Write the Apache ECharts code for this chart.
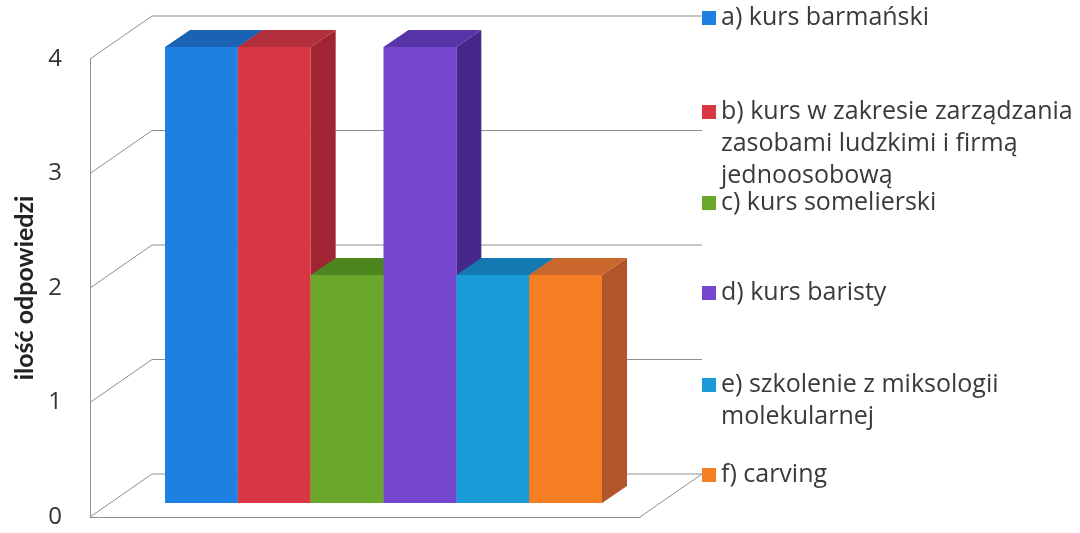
<!DOCTYPE html>
<html>
<head>
<meta charset="utf-8">
<script src="https://cdn.jsdelivr.net/npm/echarts@6/dist/echarts.min.js"></script>
<style>html,body{margin:0;padding:0;background:#fff}#chart{width:1080px;height:533px}</style>
</head>
<body>
<div id="chart"></div>
<script>
"use strict";

var courseNames = [
    'a) kurs barmański',
    'b) kurs w zakresie zarządzania zasobami ludzkimi i firmą jednoosobową',
    'c) kurs somelierski',
    'd) kurs baristy',
    'e) szkolenie z miksologii molekularnej',
    'f) carving'
];
var legendLabels = [
    'a) kurs barmański',
    'b) kurs w zakresie zarządzania\nzasobami ludzkimi i firmą\njednoosobową',
    'c) kurs somelierski',
    'd) kurs baristy',
    'e) szkolenie z miksologii\nmolekularnej',
    'f) carving'
];
var answerCounts = [4, 4, 2, 4, 2, 2];
var yTicks = [0, 1, 2, 3, 4];

var frontColors = ['#1f80e3', '#d83642', '#6aa82c', '#7547cf', '#1b9ad8', '#f57d22'];
var topColors = ['#1a62b4', '#b32f3c', '#4d861f', '#5735a8', '#1479b0', '#c9672c'];
var sideColors = ['#17539a', '#a02432', '#40721a', '#45288a', '#115f8c', '#b2552a'];
var legendCenters = [18, 112, 203, 293, 385, 475];

var DEPTH_X = 25, DEPTH_Y = -17;   // bar depth
var WALL_X = 62, WALL_Y = -43;     // back wall offset
var LINE_H = 32;
var FONT = '"Open Sans", sans-serif';

function renderWall(params, api) {
    var v = api.value(1);
    var a = api.coord([0, v]);
    var b = api.coord([1, v]);
    var style = { stroke: '#8f8f8f', lineWidth: 1, fill: null };
    var children = [{
        type: 'polyline',
        shape: { points: [a, [a[0] + WALL_X, a[1] + WALL_Y], [b[0] + WALL_X, b[1] + WALL_Y]] },
        style: style
    }];
    if (v === 0) {
        children.push({
            type: 'line',
            shape: { x1: b[0], y1: b[1], x2: b[0] + WALL_X, y2: b[1] + WALL_Y },
            style: style
        });
    }
    return { type: 'group', silent: true, children: children };
}

function barRenderer(i) {
    return function (params, api) {
        var top = api.coord([api.value(0), api.value(1)]);
        var base = api.coord([api.value(0), 0]);
        var w = api.size([1, 0])[0];
        var x0 = top[0] - w / 2, x1 = top[0] + w / 2;
        var y0 = top[1], yb = base[1];
        return {
            type: 'group',
            children: [{
                type: 'polygon',
                shape: { points: [[x1, y0], [x1 + DEPTH_X, y0 + DEPTH_Y], [x1 + DEPTH_X, yb + DEPTH_Y], [x1, yb]] },
                style: { fill: sideColors[i] }
            }, {
                type: 'polygon',
                shape: { points: [[x0, y0], [x1, y0], [x1 + DEPTH_X, y0 + DEPTH_Y], [x0 + DEPTH_X, y0 + DEPTH_Y]] },
                style: { fill: topColors[i] }
            }, {
                type: 'rect',
                shape: { x: x0, y: y0, width: w, height: yb - y0 },
                style: { fill: frontColors[i] }
            }]
        };
    };
}

var series = [{
    type: 'custom',
    xAxisIndex: 0,
    yAxisIndex: 0,
    silent: true,
    data: yTicks.map(function (t) { return [0, t]; }),
    renderItem: renderWall
}];
courseNames.forEach(function (name, i) {
    series.push({
        type: 'custom',
        name: name,
        xAxisIndex: 1,
        yAxisIndex: 1,
        color: frontColors[i],
        itemStyle: { color: frontColors[i] },
        data: [[i, answerCounts[i]]],
        encode: { x: 0, y: 1 },
        renderItem: barRenderer(i)
    });
});

// one legend per entry, the wrapped label is padded so its first line sits next to the marker
var legends = courseNames.map(function (name, i) {
    var n = legendLabels[i].split('\n').length;
    var pad = new Array(n).join(' \n');
    return {
        data: [name],
        left: 702,
        top: legendCenters[i] - (2 * n - 1) * LINE_H / 2,
        padding: 0,
        icon: 'rect',
        itemWidth: 14,
        itemHeight: 14,
        selectedMode: false,
        formatter: function () { return pad + legendLabels[i]; },
        textStyle: { fontFamily: FONT, fontSize: 25, lineHeight: LINE_H, color: '#3a3a3a' }
    };
});

var chart = echarts.init(document.getElementById('chart'));
chart.setOption({
    animation: false,
    backgroundColor: '#fff',
    legend: legends,
    grid: [
        { left: 90, top: 59, width: 550, height: 458, outerBoundsMode: 'none' },
        { left: 165, top: 47, width: 437, height: 456, outerBoundsMode: 'none' }
    ],
    xAxis: [{
        gridIndex: 0,
        type: 'value',
        min: 0,
        max: 1,
        axisLine: { show: true, lineStyle: { color: '#8f8f8f', width: 1 } },
        axisTick: { show: false },
        axisLabel: { show: false },
        splitLine: { show: false }
    }, {
        gridIndex: 1,
        type: 'category',
        data: courseNames,
        show: false
    }],
    yAxis: [{
        gridIndex: 0,
        type: 'value',
        min: 0,
        max: 4,
        interval: 1,
        name: 'ilość odpowiedzi',
        nameLocation: 'middle',
        nameGap: 50,
        nameTextStyle: { fontFamily: 'Lato, sans-serif', fontSize: 25, fontWeight: 'bold', color: '#222' },
        axisLine: { show: true, onZero: false, lineStyle: { color: '#8f8f8f', width: 1 } },
        axisTick: { show: false },
        axisLabel: { margin: 28, fontFamily: FONT, fontSize: 24, color: '#333' },
        splitLine: { show: false }
    }, {
        gridIndex: 1,
        type: 'value',
        min: 0,
        max: 4,
        interval: 1,
        show: false
    }],
    series: series
});
</script>
</body>
</html>
